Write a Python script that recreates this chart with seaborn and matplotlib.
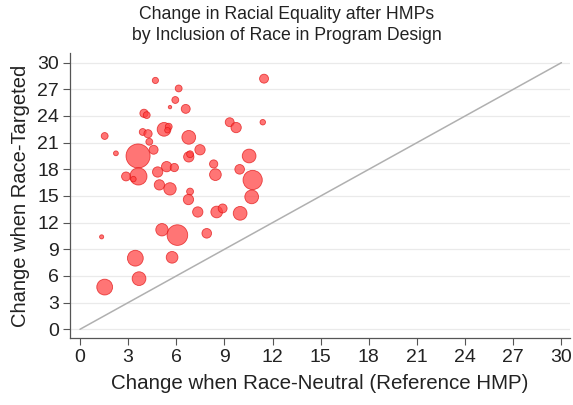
import numpy as np
import pandas as pd
import matplotlib
matplotlib.use('Agg')
from matplotlib import pyplot as plt
import seaborn as sns

# change when race-neutral (x), change when race-targeted (y), program weight
race_neutral = [4.70, 11.47, 6.15, 5.94, 5.61, 6.59, 3.99, 4.16, 9.33, 9.73,
                11.39, 5.24, 5.53, 5.45, 1.54, 3.91, 4.24, 4.32, 6.78, 2.24,
                3.62, 4.59, 7.48, 6.78, 6.86, 10.54, 8.33, 8.44, 9.95, 10.76,
                5.40, 5.88, 4.84, 3.64, 2.87, 3.33, 4.95, 5.61, 6.86, 6.76,
                10.70, 7.34, 8.52, 8.89, 9.98, 1.35, 5.11, 6.07, 7.90, 3.45,
                5.74, 3.68, 1.54]
race_targeted = [28.0, 28.2, 27.1, 25.8, 25.0, 24.8, 24.3, 24.1, 23.3, 22.7,
                 23.3, 22.5, 22.8, 22.4, 21.75, 22.2, 22.0, 21.1, 21.6, 19.8,
                 19.5, 20.2, 20.2, 19.4, 19.7, 19.5, 18.6, 17.4, 18.0, 16.8,
                 18.3, 18.2, 17.7, 17.2, 17.2, 16.9, 16.25, 15.8, 15.5, 14.6,
                 14.9, 13.2, 13.2, 13.6, 13.05, 10.4, 11.2, 10.6, 10.8, 8.0,
                 8.1, 5.7, 4.75]
weight = [81, 169, 100, 100, 25, 169, 144, 100, 169, 225,
          64, 400, 100, 64, 100, 100, 144, 100, 400, 49,
          1225, 169, 225, 225, 100, 400, 144, 289, 196, 784,
          225, 144, 225, 625, 169, 64, 225, 324, 100, 225,
          400, 225, 289, 169, 400, 36, 324, 900, 196, 529,
          289, 400, 529]

df = pd.DataFrame({'neutral': race_neutral, 'targeted': race_targeted, 'weight': weight})

ticks = np.arange(0, 31, 3)

sns.set_theme(style='white')
plt.rcParams['font.family'] = ['Liberation Sans', 'DejaVu Sans']

fig = plt.figure(figsize=(5.73, 4.05), dpi=100)
ax = fig.add_axes([0.1222, 0.1654, 0.873, 0.704])

for t in ticks:
    ax.axhline(t, color='#eaeaea', lw=0.9, zorder=0)

ax.plot([0, 30], [0, 30], color='#b0b0b0', lw=1.1, zorder=1)

sns.scatterplot(data=df, x='neutral', y='targeted', size='weight',
                sizes=(0, 300), size_norm=(0, 1225), color='#ff4040',
                alpha=0.72, edgecolor='#e01010', linewidth=0.6,
                legend=False, ax=ax, zorder=3)

ax.set_xlim(-0.62, 30.55)
ax.set_ylim(-0.98, 31.1)
ax.set_xticks(ticks)
ax.set_yticks(ticks)
ax.set_yticklabels([str(t) for t in ticks], rotation=0)
ax.tick_params(axis='both', which='both', direction='out', length=5, width=0.8,
               color='#555555', labelsize=14, labelcolor='#222222',
               bottom=True, left=True, pad=3)
for side in ['top', 'right']:
    ax.spines[side].set_visible(False)
for side in ['left', 'bottom']:
    ax.spines[side].set_color('#555555')
    ax.spines[side].set_linewidth(0.9)

ax.set_xlabel('Change when Race-Neutral (Reference HMP)', fontsize=14.8, color='#222222', labelpad=6)
ax.set_ylabel('Change when Race-Targeted', fontsize=14.5, color='#222222', labelpad=5)

fig.text(0.5, 0.985, 'Change in Racial Equality after HMPs\nby Inclusion of Race in Program Design',
         ha='center', va='top', fontsize=12.7, color='#222222', linespacing=1.3)

fig.savefig('out.png', dpi=100)
